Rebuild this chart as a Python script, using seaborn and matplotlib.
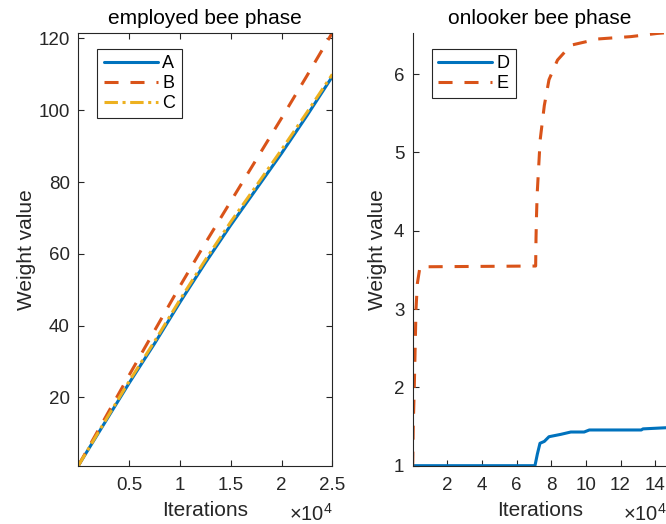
import numpy as np
import pandas as pd
import matplotlib
matplotlib.use("Agg")
import matplotlib.pyplot as plt
import seaborn as sns

# ---------------- data ----------------
# employed bee phase
emp_x = [1, 2500, 5000, 7500, 10000, 12500, 15000, 17500, 20000, 22500, 25000]
emp_A = [1.0, 12.5, 24.0, 35.0, 46.5, 57.5, 68.0, 78.0, 88.0, 98.5, 109.4]
emp_B = [1.0, 13.6, 26.2, 38.6, 51.0, 63.0, 74.6, 86.2, 97.8, 109.6, 121.6]
emp_C = [1.0, 12.8, 24.5, 35.6, 47.2, 58.3, 68.9, 78.9, 89.0, 99.4, 110.0]

# onlooker bee phase
onl_D_x = [1, 70600, 72000, 73500, 76000, 78700, 85500, 91300, 99000, 102000,
           132000, 133000, 146700]
onl_D = [1.0, 1.0, 1.15, 1.286, 1.31, 1.37, 1.40, 1.43, 1.43, 1.456,
         1.456, 1.47, 1.485]
onl_E_x = [1, 300, 900, 1900, 2700, 4200, 71000, 71200, 71500, 71900, 73600,
           76000, 78700, 83600, 91300, 107000, 126000, 141000, 146700]
onl_E = [1.0, 1.5, 2.0, 3.0, 3.33, 3.54, 3.55, 3.9, 4.2, 4.48, 5.16,
         5.6, 5.93, 6.18, 6.37, 6.45, 6.48, 6.52, 6.53]

emp_xticks = [5000, 10000, 15000, 20000, 25000]
emp_xticklabels = ["0.5", "1", "1.5", "2", "2.5"]
emp_yticks = [20, 40, 60, 80, 100, 120]
onl_xticks = [20000, 40000, 60000, 80000, 100000, 120000, 140000]
onl_xticklabels = ["2", "4", "6", "8", "10", "12", "14"]
onl_yticks = [1, 2, 3, 4, 5, 6]

# ---------------- style ----------------
sns.set_theme(style="white")
plt.rcParams["font.family"] = ["Liberation Sans", "DejaVu Sans"]
plt.rcParams["mathtext.fontset"] = "custom"
plt.rcParams["mathtext.rm"] = "Liberation Sans"

C_BLUE = "#0072BD"
C_RED = "#D95319"
C_YEL = "#EDB120"
AX_COL = "#262626"
LW = 2.2
TICK_FS = 13.5
LABEL_FS = 15
TITLE_FS = 15

fig = plt.figure(figsize=(6.66, 5.24), dpi=100)
ax1 = fig.add_axes([0.1176, 0.1113, 0.3814, 0.8263])
ax2 = fig.add_axes([0.6197, 0.1113, 0.3814, 0.8263])

df_emp = pd.DataFrame({"x": emp_x, "A": emp_A, "B": emp_B, "C": emp_C})
df_D = pd.DataFrame({"x": onl_D_x, "y": onl_D})
df_E = pd.DataFrame({"x": onl_E_x, "y": onl_E})

dash = (0, (4.6, 3.9))
dashdot = (0, (4.4, 1.5, 1.0, 1.5))

sns.lineplot(data=df_emp, x="x", y="A", ax=ax1, color=C_BLUE, lw=LW,
             label="A", estimator=None, sort=False)
sns.lineplot(data=df_emp, x="x", y="B", ax=ax1, color=C_RED, lw=LW,
             linestyle=dash, label="B", estimator=None, sort=False)
sns.lineplot(data=df_emp, x="x", y="C", ax=ax1, color=C_YEL, lw=LW,
             linestyle=dashdot, label="C", estimator=None, sort=False)

sns.lineplot(data=df_D, x="x", y="y", ax=ax2, color=C_BLUE, lw=LW,
             label="D", estimator=None, sort=False)
sns.lineplot(data=df_E, x="x", y="y", ax=ax2, color=C_RED, lw=LW,
             linestyle=dash, label="E", estimator=None, sort=False)

# ---------------- axes cosmetics ----------------
all_emp = emp_A + emp_B + emp_C
ax1.set_xlim(min(emp_x), max(emp_x))
ax1.set_ylim(min(all_emp), max(all_emp))
ax1.set_xticks(emp_xticks)
ax1.set_xticklabels(emp_xticklabels)
ax1.set_yticks(emp_yticks)

all_onl = onl_D + onl_E
ax2.set_xlim(min(onl_D_x + onl_E_x), max(onl_D_x + onl_E_x))
ax2.set_ylim(min(all_onl), max(all_onl))
ax2.set_xticks(onl_xticks)
ax2.set_xticklabels(onl_xticklabels)
ax2.set_yticks(onl_yticks)

for ax, title, box, lp in ((ax1, "employed bee phase", True, 2),
                           (ax2, "onlooker bee phase", False, 5)):
    for side, sp in ax.spines.items():
        sp.set_color(AX_COL)
        sp.set_linewidth(0.8)
    if not box:
        ax.spines["top"].set_visible(False)
        ax.spines["right"].set_visible(False)
    ax.tick_params(axis="both", direction="in", length=4, width=0.8,
                   colors=AX_COL, labelsize=TICK_FS,
                   top=box, right=box, bottom=True, left=True)
    ax.tick_params(axis="x", pad=8)
    ax.tick_params(axis="y", pad=6)
    ax.set_xlabel("Iterations", fontsize=LABEL_FS, color=AX_COL, labelpad=5)
    ax.set_ylabel("Weight value", fontsize=LABEL_FS, color=AX_COL, labelpad=lp)
    ax.set_title(title, fontsize=TITLE_FS, color="black", pad=6)
    ax.text(1.0, -0.085, r"$\times$10$^{4}$", transform=ax.transAxes,
            ha="right", va="top", fontsize=TICK_FS + 1, color=AX_COL)
    ax.grid(False)
    leg = ax.legend(loc="upper left", bbox_to_anchor=(0.075, 0.962),
                    borderaxespad=0, fontsize=13, handlelength=3.0,
                    handletextpad=0.25, labelspacing=0.15, borderpad=0.35,
                    fancybox=False, frameon=True, framealpha=1)
    leg.get_frame().set_edgecolor(AX_COL)
    leg.get_frame().set_linewidth(0.8)
    for t in leg.get_texts():
        t.set_color("black")

fig.savefig("out.png", dpi=100)
